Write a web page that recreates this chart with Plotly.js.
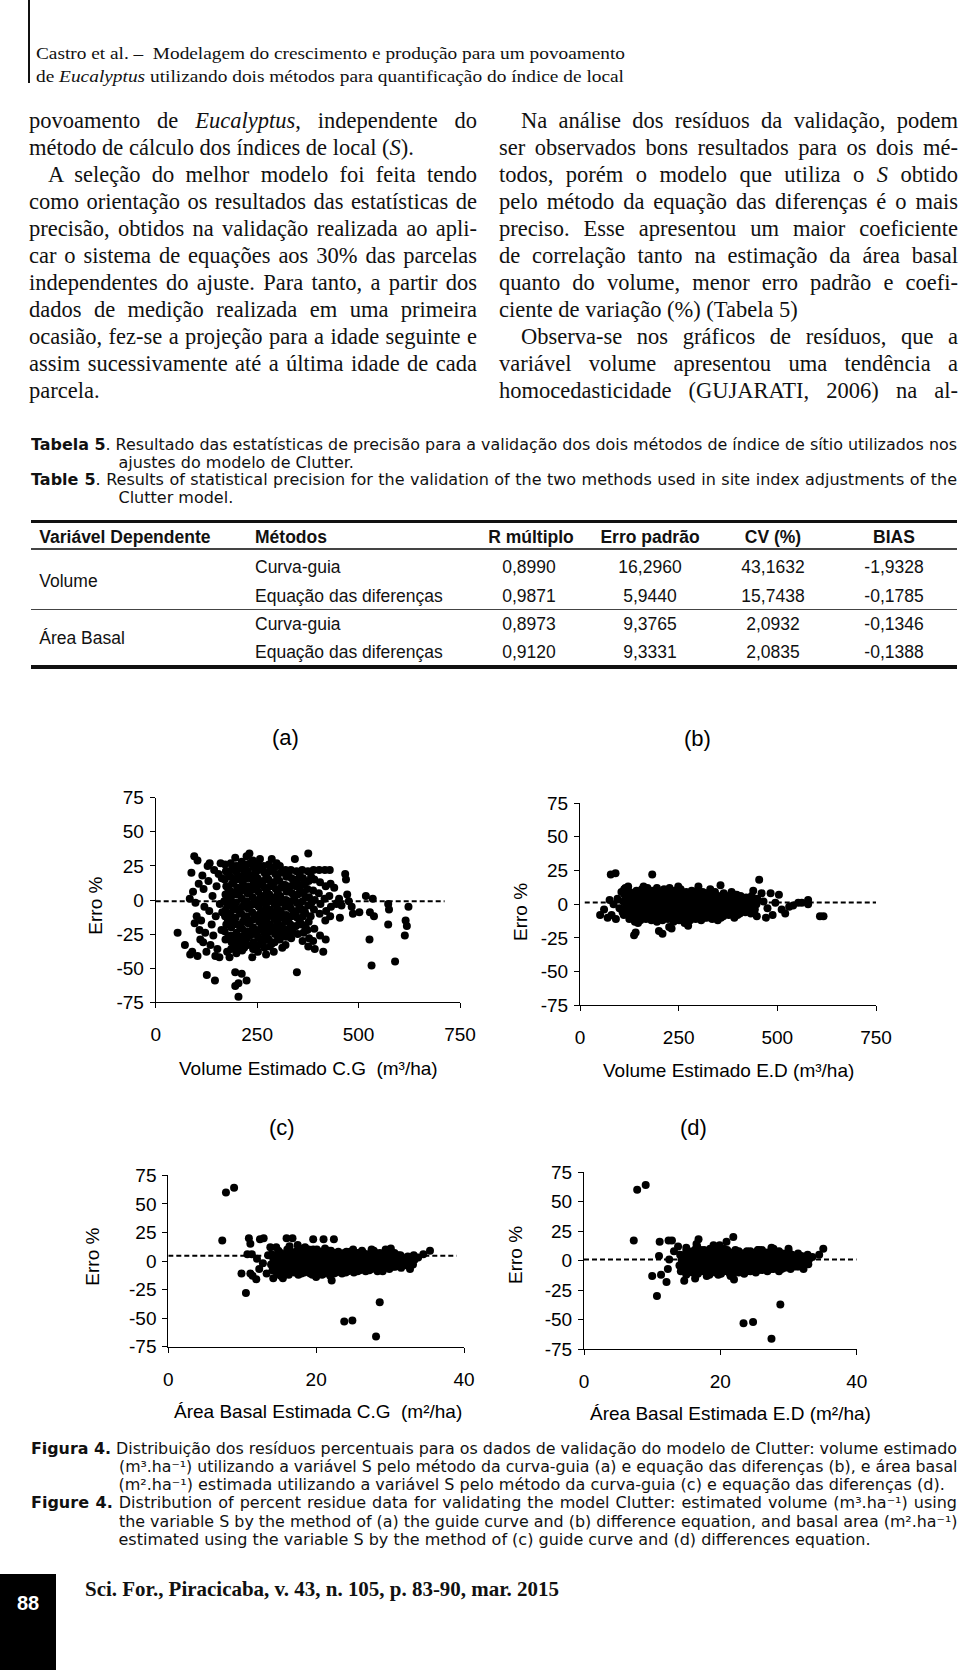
<!DOCTYPE html>
<html><head><meta charset="utf-8">
<script src="https://cdn.plot.ly/plotly-3.0.1.min.js"></script>
<style>
html,body{margin:0;padding:0;background:#fff;}
body{width:960px;height:1670px;position:relative;overflow:hidden;}
.ln{position:absolute;white-space:nowrap;color:#111;}
.ln>span{display:inline-block;transform-origin:0 50%;}
.serif{font-family:'Liberation Serif','Times New Roman',serif;}
.sans{font-family:'DejaVu Sans',Verdana,sans-serif;}
.arial{font-family:'Liberation Sans',Arial,sans-serif;}
.box{position:absolute;background:#111;}
#fig{position:absolute;left:0;top:690px;width:960px;height:740px;}
</style></head>
<body>
<div class="box" style="left:28px;top:0;width:2px;height:83px;"></div>
<div class="box" style="left:31px;top:519.5px;width:926px;height:3.5px;"></div>
<div class="box" style="left:31px;top:548px;width:926px;height:1.5px;background:#444;"></div>
<div class="box" style="left:31px;top:608.5px;width:926px;height:1.5px;background:#444;"></div>
<div class="box" style="left:31px;top:665px;width:926px;height:3.5px;"></div>
<div class="box" style="left:0;top:1574px;width:56px;height:96px;background:#000;"></div>
<div id="fig"></div>
<script>
// ---------- chart data (estimated value, error %) ----------
const volCG = [
[54,-24],[72,-33],[84,1],[85,-40],[88,20],[90,-38],[92,6],[95,32],[96,-17],[98,-2],[101,-12],[103,29],[103,-41],[106,12],[108,-22],[110,-29],[112,-15],[115,18],[117,-31],[118,8],[120,-5],[122,-24],[125,-38],[126,-55],[128,25],[130,14],[132,-8],[133,27],[135,-33],[138,-18],[140,3],[142,-26],[144,22],[146,-59],[147,-41],[148,-12],[150,10],[152,-36],[155,19],[157,-42],[158,-3],[160,27],[162,-22],[164,-9],[163,16],
[171,26],[173,21],[170,15],[174,10],[172,4],[169,-1],[173,-7],[171,-12],[174,-18],[170,-23],[172,-29],[176,-38],
[178,20],[179,8],[177,-4],[178,-15],[179,-27],
[185,27],[187,22],[184,17],[188,12],[186,6],[185,1],[187,-4],[184,-10],[188,-15],[186,-20],[185,-26],[187,-31],[186,-36],[182,-42],
[192,24],[193,14],[191,4],[192,-7],[193,-17],[191,-28],
[198,25],[200,20],[197,15],[201,9],[199,4],[198,-2],[200,-7],[197,-13],[201,-18],[199,-24],[198,-29],[200,-34],[199,-39],[196,31],[196,-53],[196,-63],[204,-71],[204,-61],
[206,25],[207,15],[205,4],[206,-8],[207,-19],[205,-30],
[212,28],[214,23],[211,17],[215,12],[213,7],[212,1],[214,-5],[211,-10],[215,-16],[213,-21],[212,-27],[214,-32],[213,-37],[212,-54],
[219,19],[220,8],[218,-3],[219,-14],[220,-25],[218,-35],
[225,26],[227,21],[224,16],[228,10],[226,5],[225,-1],[227,-6],[224,-12],[228,-17],[226,-23],[225,-28],[227,-33],[224,-59],[224,32],[231,34],
[233,27],[234,16],[232,6],[233,-4],[234,-15],[232,-26],
[239,29],[241,24],[238,18],[242,13],[240,8],[239,2],[241,-3],[238,-9],[242,-14],[240,-20],[239,-25],[241,-31],[240,-36],[238,-42],
[246,20],[247,10],[245,-1],[246,-12],[247,-23],[245,-33],
[252,27],[254,22],[251,16],[255,11],[253,6],[252,0],[254,-5],[251,-11],[255,-16],[253,-22],[252,-27],[254,-33],[252,-38],[257,30],
[260,24],[261,13],[259,3],[260,-8],[261,-19],[259,-29],
[266,25],[268,20],[265,14],[269,9],[267,3],[266,-2],[268,-8],[265,-13],[269,-19],[267,-24],[266,-30],[268,-35],[272,-40],
[273,17],[274,6],[272,-5],[273,-16],[274,-27],
[279,26],[281,21],[278,15],[282,10],[280,4],[279,-1],[281,-7],[278,-12],[282,-18],[280,-23],[279,-29],[281,-34],[286,30],
[287,23],[288,12],[286,1],[287,-10],[288,-21],[286,-32],
[293,24],[295,19],[292,13],[296,8],[294,2],[293,-3],[295,-9],[292,-14],[296,-20],[294,-25],[293,-31],[291,-38],[298,27],
[300,16],[301,5],[299,-6],[300,-17],[301,-27],
[306,25],[308,20],[305,14],[309,9],[307,3],[306,-2],[308,-8],[305,-13],[309,-19],[307,-24],[306,-29],[312,-35],
[314,21],[315,11],[313,0],[314,-11],[315,-21],
[320,22],[322,17],[319,11],[323,6],[321,0],[320,-5],[322,-11],[319,-16],[323,-22],[321,-27],[320,-33],
[327,19],[328,8],[326,-3],[327,-14],[328,-25],
[333,22],[335,16],[332,10],[336,5],[334,-1],[333,-6],[335,-12],[332,-18],[336,-23],[334,-28],[343,30],
[341,13],[342,2],[340,-9],[341,-20],
[347,21],[349,15],[346,10],[350,4],[348,-2],[347,-8],[349,-13],[346,-19],[350,-25],[348,-53],
[355,18],[356,7],[354,-4],[355,-15],
[361,22],[363,16],[360,11],[364,5],[362,-1],[361,-7],[363,-12],[360,-18],[364,-24],[362,-30],
[369,13],[370,2],[368,-9],[369,-20],
[375,21],[377,14],[374,8],[378,2],[376,-4],[377,-16],[374,-22],[378,-28],[376,-34],[376,34],
[383,17],[384,-2],[382,-12],
[389,22],[391,15],[388,7],[392,0],[390,-7],[391,-21],[388,-30],[392,-36],
[403,22],[405,13],[402,5],[406,-3],[404,-10],[405,-26],
[417,22],[419,10],[416,1],[420,-8],[418,-15],[419,-29],[413,-38],
[429,22],[431,12],[428,3],[432,-5],[430,-12],
[440,9],[445,-3],[448,-2],[452,1],[454,-13],[458,-4],[467,19],[469,15],[472,4],[476,-1],[483,-5],[486,-10],[502,-9],[518,3],[527,-29],[528,-9],[532,-48],[535,1],[538,-12],[573,-3],[573,-18],[575,-7],[590,-45],[614,-26],[616,-15],[619,-19],[623,-5]
];
const volED = [
[51,-8],[61,-4],[70,-10],[75,3],[78,22],[80,-8],[85,0],[90,23],[91,-11],[95,4],[100,-3],[105,9],[108,-6],[115,12],
[111,-8],[114,-3],[110,2],[113,7],[112,11],[119,-6],[118,4],[120,-1],
[125,-11],[128,-6],[124,-1],[127,4],[126,9],[122,13],[133,-9],[132,-4],[134,1],[133,6],
[139,-13],[142,-8],[138,-3],[141,2],[140,6],[143,10],[137,-23],[141,-21],[147,-10],[146,-5],[148,0],[147,4],[146,9],
[153,-12],[156,-7],[152,-2],[155,3],[154,8],[157,11],[147,-14],[161,-9],[160,-4],[162,0],[161,5],[160,10],
[167,-11],[170,-6],[166,-1],[169,4],[168,9],[171,12],[161,13],[175,-9],[174,-4],[176,2],[175,7],
[181,-12],[184,-8],[180,-3],[183,1],[182,6],[185,10],[183,22],[189,-10],[188,-6],[190,-1],[189,3],[188,8],
[195,-13],[198,-9],[194,-4],[197,0],[196,5],[199,9],[195,12],[200,-20],[209,-22],[203,-10],[202,-5],[204,2],[203,7],
[209,-12],[212,-7],[208,-2],[211,3],[210,7],[213,11],[217,-9],[216,-4],[218,0],[217,5],[216,9],
[223,-11],[226,-7],[222,-2],[225,2],[224,7],[227,12],[226,-17],[232,-18],[231,-10],[230,-5],[232,-1],[231,4],[230,9],
[237,-13],[240,-8],[236,-4],[239,1],[238,5],[241,10],[245,-10],[244,-6],[246,-1],[245,3],[244,8],
[251,-12],[254,-7],[250,-3],[253,2],[252,6],[255,11],[249,13],[259,-10],[258,-5],[260,0],[259,4],[258,9],
[265,-14],[268,-9],[264,-4],[267,0],[266,5],[269,9],[270,-14],[274,-16],[273,-11],[272,-6],[274,-1],[273,3],[272,7],
[279,-12],[282,-8],[278,-3],[281,2],[280,6],[283,10],[287,-10],[286,-5],[288,0],[287,4],[286,8],
[293,-11],[296,-7],[292,-2],[295,3],[294,7],[297,10],[300,13],[301,-9],[300,-4],[302,0],[301,5],[300,9],
[307,-12],[310,-8],[306,-3],[309,1],[308,5],[311,9],[315,-10],[314,-5],[316,-1],[315,4],[314,7],
[321,-10],[324,-6],[320,-1],[323,3],[322,8],[330,11],[329,-8],[328,-4],[330,1],[329,5],
[335,-11],[338,-6],[334,-2],[337,3],[336,7],[343,-9],[342,-4],[344,0],[343,5],[342,9],
[349,-12],[352,-7],[348,-3],[351,2],[350,6],[356,14],[357,-10],[356,-5],[358,0],[357,4],
[363,-9],[366,-5],[362,0],[365,4],[364,8],[371,-7],[370,-2],[372,2],[371,6],
[377,-8],[380,-4],[376,1],[379,5],[384,9],[385,-6],[384,-2],[386,3],
[391,-10],[394,-5],[390,-1],[393,3],[392,7],[397,7],[399,-8],[398,-3],[400,1],[399,5],
[405,-7],[408,-3],[404,2],[407,6],[413,-5],[412,0],[414,4],
[419,-6],[422,-2],[418,2],[421,5],[427,-4],[426,0],[428,3],
[433,-7],[436,-3],[432,1],[435,6],[439,10],[441,-6],[440,-1],[442,3],
[443,-4],[448,-9],[447,0],[449,4],[454,18],[460,8],
[465,2],[471,-10],[475,-3],[483,8],[488,-8],[495,1],[504,7],[511,-4],[520,-7],[530,-2],[540,-1],[553,1],[562,1],[578,3],[578,0],[608,-9],[617,-9]
];
const baCG = [
[7.8,60],[8.9,64],[7.3,18],[9.9,-11],[10.5,-28],[10.7,6],[10.9,20],[11.1,15],[11.1,-11],[11.3,6],[11.4,-13],[11.9,-16],[12.0,2],[12.3,-7],[12.4,19],[12.8,-2],[12.9,20],[13.3,-11],[13.5,5],[13.8,12],[14.2,-15],[14.6,12],[15.2,-13],[15.5,-15],[16.0,20],[16.8,20],[17.5,14],[18.5,12],[19.6,19],[20.0,-14],[21.0,19],[22.1,-17],[22.4,19],[23.8,-53],[24.9,-52],[25.0,10],[27.5,10],[28.1,-66],[28.6,-36],[29.0,-9],[30.1,11],[31.5,4],[32.5,-1],[32.7,-7],[33.8,3],[34.5,6],[35.4,9],
[14.1,-8],[13.9,-3],[14.2,2],[14.0,6],[14.5,-5],[14.4,0],[14.5,4],
[14.7,-11],[14.9,-6],[14.8,-1],[14.6,4],[14.9,9],[15.2,-8],[15.3,-3],[15.1,2],[15.2,7],
[15.5,-9],[15.7,-4],[15.6,1],[15.8,5],[16.0,-10],[16.1,-5],[15.9,0],[16.0,5],[16.1,10],
[16.3,-12],[16.5,-7],[16.4,-2],[16.2,3],[16.6,8],[16.4,13],[16.8,-9],[16.9,-4],[16.7,1],[16.8,6],
[17.1,-10],[17.3,-5],[17.2,0],[17.0,4],[17.4,9],[17.6,-12],[17.7,-8],[17.5,-3],[17.6,2],[17.7,6],
[18.0,-11],[17.9,-6],[18.1,-2],[18.0,3],[18.2,7],[17.8,11],[18.4,-10],[18.5,-5],[18.3,0],[18.4,4],[18.5,9],
[18.7,-9],[18.9,-4],[18.8,1],[18.6,5],[19.0,10],[19.2,-11],[19.3,-6],[19.1,-1],[19.2,3],[19.3,8],
[19.5,-12],[19.7,-7],[19.6,-3],[19.4,2],[19.8,6],[19.6,10],[20.0,-9],[20.1,-4],[19.9,1],[20.0,5],[20.1,10],
[20.3,-10],[20.5,-5],[20.4,0],[20.2,4],[20.6,8],[20.8,-12],[20.9,-8],[20.7,-3],[20.8,2],[20.9,6],
[21.1,-11],[21.3,-6],[21.2,-1],[21.0,3],[21.4,7],[21.2,11],[21.6,-9],[21.7,-4],[21.5,0],[21.6,5],[21.7,9],
[21.9,-13],[22.1,-8],[22.0,-4],[21.8,1],[22.2,5],[22.0,9],[22.4,-11],[22.5,-6],[22.3,-2],[22.4,3],[22.5,7],
[22.7,-10],[22.9,-5],[22.8,0],[22.6,4],[23.0,8],[23.2,-8],[23.3,-3],[23.1,1],[23.2,6],
[23.5,-11],[23.7,-7],[23.6,-2],[23.4,3],[23.8,7],[24.0,-10],[24.1,-5],[23.9,-1],[24.0,3],[24.1,8],
[24.3,-9],[24.5,-5],[24.4,0],[24.2,4],[24.6,8],[24.8,-7],[24.9,-3],[24.7,2],[24.8,6],
[25.1,-10],[25.3,-6],[25.2,-1],[25.0,3],[25.4,7],[25.6,-9],[25.7,-5],[25.5,-1],[25.6,3],[25.7,7],
[25.9,-8],[26.1,-4],[26.0,1],[25.8,5],[26.2,9],[26.4,-7],[26.5,-2],[26.3,2],[26.4,7],
[26.7,-9],[26.9,-5],[26.8,-1],[26.6,3],[27.0,6],[27.2,-8],[27.3,-4],[27.1,0],[27.2,4],
[27.5,-7],[27.7,-3],[27.6,1],[27.4,5],[27.8,9],[28.0,-6],[28.1,-1],[27.9,3],[28.0,7],
[28.3,-9],[28.5,-5],[28.4,0],[28.2,4],[28.6,7],[28.8,-7],[28.9,-3],[28.7,2],[28.8,5],
[29.1,-6],[29.3,-2],[29.2,2],[29.0,6],[29.4,10],[29.6,-4],[29.7,0],[29.5,4],[29.6,8],
[29.9,-7],[30.1,-3],[30.0,1],[29.8,5],[30.4,-5],[30.5,-1],[30.3,3],
[30.7,-5],[30.9,-1],[30.8,3],[30.6,7],[31.2,-3],[31.3,1],[31.1,5],
[31.5,-6],[31.7,-2],[31.6,2],[31.4,5],[32.0,-2],[32.1,2],
[32.3,-4],[32.5,0],[32.4,4],[32.8,-1],[32.9,3],
[33.1,-3],[33.3,1],[33.2,5]
];
const baED = [
[7.8,60],[9.05,64],[7.3,17],[10.0,-13],[10.7,-30],[11.0,4],[11.1,16],[11.3,-12],[12.1,-18],[12.3,-7],[12.4,17],[12.5,1],[12.9,17],[13.2,8],[13.8,12],[14.7,-17],[15.0,11],[16.3,-15],[16.5,14],[16.8,18],[18.0,-13],[19.0,13],[20.9,16],[21.5,-13],[21.9,20],[22.0,-16],[23.4,-53],[24.8,-52],[25.5,9],[27.5,11],[27.5,-66],[28.8,-37],[30.0,10],[31.5,-5],[32.2,-7],[33.5,3],[34.5,5],[35.1,10],
[14.2,-9],[14.0,-4],[14.3,1],[14.1,5],[14.6,-6],[14.7,-1],[14.5,3],
[15.0,-12],[15.1,-7],[14.9,-2],[15.2,3],[15.0,8],[15.4,-9],[15.5,-4],[15.4,1],[15.5,6],
[15.9,-10],[16.0,-5],[15.8,0],[16.1,4],[15.9,8],[16.3,-8],[16.4,-3],[16.2,2],[16.3,6],[16.4,10],
[16.7,-11],[16.8,-7],[16.6,-2],[16.9,3],[16.7,7],[16.6,12],[17.1,-9],[17.2,-5],[17.1,0],[17.2,5],[17.1,9],
[17.6,-9],[17.7,-4],[17.5,0],[17.8,5],[17.6,9],[18.0,-10],[18.1,-6],[17.9,-1],[18.0,3],[18.1,8],
[18.4,-12],[18.5,-7],[18.3,-3],[18.6,2],[18.4,6],[18.5,10],[18.9,-9],[18.8,-5],[18.9,0],[18.8,4],[18.9,8],
[19.3,-10],[19.4,-5],[19.2,-1],[19.5,3],[19.3,8],[19.7,-12],[19.8,-8],[19.7,-3],[19.6,1],[19.7,6],[19.8,10],
[20.1,-11],[20.2,-6],[20.0,-2],[20.3,3],[20.1,7],[19.9,13],[20.5,-9],[20.6,-4],[20.5,1],[20.6,5],[20.5,10],
[21.0,-9],[21.1,-5],[20.9,0],[21.2,4],[21.0,9],[21.4,-11],[21.5,-7],[21.4,-2],[21.3,2],[21.4,7],
[21.8,-12],[21.9,-7],[21.7,-3],[22.0,2],[21.8,6],[22.2,-9],[22.3,-5],[22.2,0],[22.3,4],[22.2,9],
[22.7,-10],[22.8,-5],[22.6,-1],[22.9,3],[22.7,8],[23.1,-8],[23.2,-3],[23.0,1],[23.1,6],
[23.5,-11],[23.6,-6],[23.4,-2],[23.7,2],[23.5,6],[23.9,-9],[24.0,-4],[23.9,0],[24.0,4],[23.9,8],
[24.4,-9],[24.5,-4],[24.3,0],[24.6,4],[24.4,8],[24.8,-7],[24.9,-2],[24.8,2],[24.7,6],
[25.2,-10],[25.3,-5],[25.1,-1],[25.4,3],[25.2,7],[25.6,-8],[25.7,-3],[25.6,1],[25.7,5],[25.6,9],
[26.1,-8],[26.2,-4],[26.0,1],[26.3,5],[26.1,9],[26.5,-6],[26.6,-2],[26.5,3],[26.4,7],
[26.9,-9],[27.0,-5],[26.8,-1],[27.1,3],[26.9,7],[27.4,-7],[27.3,-3],[27.4,1],[27.3,5],
[27.8,-7],[27.9,-3],[27.7,1],[28.0,5],[27.8,10],[28.2,-5],[28.3,-1],[28.2,3],[28.3,7],
[28.6,-9],[28.7,-5],[28.5,0],[28.8,4],[28.6,8],[29.0,-7],[29.1,-3],[29.0,2],[29.1,6],
[29.5,-6],[29.6,-2],[29.4,2],[29.7,6],[29.9,-4],[30.0,0],[29.9,4],[30.0,8],
[30.3,-7],[30.4,-3],[30.2,1],[30.5,5],[30.8,-5],[30.7,-1],[30.8,3],
[31.2,-5],[31.3,-1],[31.1,3],[31.4,6],[31.6,-3],[31.7,1],[31.6,4],
[32.0,-4],[32.1,0],[31.9,4],[32.4,-2],[32.5,2],
[32.9,-3],[33.0,1],[32.8,5]
];
// dashed reference lines (x, error %)
const lineA = [[0,-1],[712,-1]];
const lineB = [[12,1.3],[750,1.3]];
const lineC = [[0,4.5],[39,4.5]];
const lineD = [[0,1],[40,1]];
// ticks and labels
const volTicks = [0,250,500,750];
const baTicks = [0,20,40];
const erroTicks = [-75,-50,-25,0,25,50,75];
const panelLabels = ['(a)','(b)','(c)','(d)'];
const xTitles = ['Volume Estimado C.G  (m³/ha)','Volume Estimado E.D (m³/ha)','Área Basal Estimada C.G  (m²/ha)','Área Basal Estimada E.D (m²/ha)'];
const yTitle = 'Erro %';

// table data
const tblHead = ['Variável Dependente','Métodos','R múltiplo','Erro padrão','CV (%)','BIAS'];
const tblVar = ['Volume','Área Basal'];
const tblMet = ['Curva-guia','Equação das diferenças','Curva-guia','Equação das diferenças'];
const tblR = ['0,8990','0,9871','0,8973','0,9120'];
const tblErro = ['16,2960','5,9440','9,3765','9,3331'];
const tblCV = ['43,1632','15,7438','2,0932','2,0835'];
const tblBias = ['-1,9328','-0,1785','-0,1346','-0,1388'];

// ---------- page text ----------
function addLine(html, x, yc, w, mode, cls, size, lh, center){
  const d = document.createElement('div');
  d.className = 'ln ' + cls;
  d.style.left = x + 'px';
  d.style.top = (yc - lh/2) + 'px';
  d.style.fontSize = size + 'px';
  d.style.lineHeight = lh + 'px';
  d.style.height = lh + 'px';
  if (center) d.style.transform = 'translateX(-50%)';
  const s = document.createElement('span');
  s.innerHTML = html;
  d.appendChild(s);
  d.dataset.w = w || 0;
  d.dataset.mode = mode || 'n';
  document.body.appendChild(d);
  return d;
}
function fitAll(){
  document.querySelectorAll('.ln').forEach(d => {
    const s = d.firstChild;
    s.style.transform = ''; s.style.wordSpacing = '';
    const T = +d.dataset.w, m = d.dataset.mode;
    if (!T) return;
    const w = s.getBoundingClientRect().width;
    if (m === 'f' || w > T) { s.style.transform = 'scaleX(' + (T / w) + ')'; }
    else if (m === 'j') {
      const n = (s.textContent.match(/[ \u00a0]/g) || []).length;
      if (n) s.style.wordSpacing = ((T - w) / n) + 'px';
    }
  });
}

// header
addLine('Castro et al. –&nbsp; Modelagem do crescimento e produção para um povoamento', 36, 54, 589, 'f', 'serif', 17, 22);
addLine('de <i>Eucalyptus</i> utilizando dois métodos para quantificação do índice de local', 36, 76.5, 588, 'f', 'serif', 17, 22);

// body columns
const leftCol = [
 ['povoamento de <i>Eucalyptus</i>, independente do','j',0],
 ['método de cálculo dos índices de local (<i>S</i>).','n',0],
 ['A seleção do melhor modelo foi feita tendo','j',19],
 ['como orientação os resultados das estatísticas de','j',0],
 ['precisão, obtidos na validação realizada ao apli-','j',0],
 ['car o sistema de equações aos 30% das parcelas','j',0],
 ['independentes do ajuste. Para tanto, a partir dos','j',0],
 ['dados de medição realizada em uma primeira','j',0],
 ['ocasião, fez-se a projeção para a idade seguinte e','j',0],
 ['assim sucessivamente até a última idade de cada','j',0],
 ['parcela.','n',0]
];
const rightCol = [
 ['Na análise dos resíduos da validação, podem','j',22],
 ['ser observados bons resultados para os dois mé-','j',0],
 ['todos, porém o modelo que utiliza o <i>S</i> obtido','j',0],
 ['pelo método da equação das diferenças é o mais','j',0],
 ['preciso. Esse apresentou um maior coeficiente','j',0],
 ['de correlação tanto na estimação da área basal','j',0],
 ['quanto do volume, menor erro padrão e coefi-','j',0],
 ['ciente de variação (%) (Tabela 5)','n',0],
 ['Observa-se nos gráficos de resíduos, que a','j',22],
 ['variável volume apresentou uma tendência a','j',0],
 ['homocedasticidade (GUJARATI, 2006) na al-','j',0]
];
leftCol.forEach((l,i) => addLine(l[0], 29 + l[2], 120.5 + i*26.95, 448 - l[2], l[1], 'serif', 22.5, 27));
rightCol.forEach((l,i) => addLine(l[0], 499 + l[2], 120.5 + i*26.95, 459 - l[2], l[1], 'serif', 22.5, 27));

// table caption
addLine('<b>Tabela 5</b>. Resultado das estatísticas de precisão para a validação dos dois métodos de índice de sítio utilizados nos', 31, 445, 926, 'j', 'sans', 16, 18);
addLine('ajustes do modelo de Clutter.', 118.5, 462.5, 838, 'n', 'sans', 16, 18);
addLine('<b>Table 5</b>. Results of statistical precision for the validation of the two methods used in site index adjustments of the', 31, 480, 926, 'j', 'sans', 16, 18);
addLine('Clutter model.', 118.5, 497.5, 838, 'n', 'sans', 16, 18);

// table
const hdrY = 536.7, rowY = [566.7, 595.7, 624.3, 652.3], varY = [580.7, 638.3];
const colC = [529, 650, 773, 894];
addLine('<b>' + tblHead[0] + '</b>', 39.3, hdrY, 0, 'n', 'arial', 17.5, 22);
addLine('<b>' + tblHead[1] + '</b>', 255, hdrY, 0, 'n', 'arial', 17.5, 22);
[2,3,4,5].forEach((k,j) => addLine('<b>' + tblHead[k] + '</b>', colC[j] + (j===0?2:0), hdrY, 0, 'n', 'arial', 17.5, 22, true));
tblVar.forEach((v,i) => addLine(v, 39.3, varY[i], 0, 'n', 'arial', 17.5, 22));
tblMet.forEach((v,i) => addLine(v, 255, rowY[i], 0, 'n', 'arial', 17.5, 22));
[tblR, tblErro, tblCV, tblBias].forEach((col,j) => col.forEach((v,i) => addLine(v, colC[j], rowY[i], 0, 'n', 'arial', 17.5, 22, true)));

// figure caption
addLine('<b>Figura 4.</b> Distribuição dos resíduos percentuais para os dados de validação do modelo de Clutter: volume estimado', 31, 1448.5, 926, 'j', 'sans', 16, 18);
addLine('(m³.ha⁻¹) utilizando a variável S pelo método da curva-guia (a) e equação das diferenças (b), e área basal', 118.5, 1466.8, 838.5, 'j', 'sans', 16, 18);
addLine('(m².ha⁻¹) estimada utilizando a variável S pelo método da curva-guia (c) e equação das diferenças (d).', 118.5, 1485, 838.5, 'n', 'sans', 16, 18);
addLine('<b>Figure 4.</b> Distribution of percent residue data for validating the model Clutter: estimated volume (m³.ha⁻¹) using', 31, 1503.3, 926, 'j', 'sans', 16, 18);
addLine('the variable S by the method of (a) the guide curve and (b) difference equation, and basal area (m².ha⁻¹)', 118.5, 1521.7, 838.5, 'j', 'sans', 16, 18);
addLine('estimated using the variable S by the method of (c) guide curve and (d) differences equation.', 118.5, 1540, 838.5, 'n', 'sans', 16, 18);

// footer
const pg = addLine('<b>88</b>', 28, 1603, 0, 'n', 'arial', 20, 24, true);
pg.style.color = '#fff';
addLine('<b>Sci. For., Piracicaba, v. 43, n. 105, p. 83-90, mar. 2015</b>', 85, 1589, 474, 'f', 'serif', 21, 26);

fitAll();
if (document.fonts && document.fonts.ready) document.fonts.ready.then(fitAll);

// ---------- Plotly figure ----------
const FONT = 'Liberation Sans, Arial, sans-serif';
function pts(p, xa, ya){
  return {type:'scatter', mode:'markers', x:p.map(d=>d[0]), y:p.map(d=>d[1]), xaxis:xa, yaxis:ya,
    marker:{color:'#000', size:8, line:{width:0}}, hoverinfo:'skip', showlegend:false, cliponaxis:false};
}
function dash(p, xa, ya){
  return {type:'scatter', mode:'lines', x:p.map(d=>d[0]), y:p.map(d=>d[1]), xaxis:xa, yaxis:ya,
    line:{color:'#000', width:2, dash:'5px,3px'}, hoverinfo:'skip', showlegend:false};
}
function axis(domain, range, ticks, anchor, standoff){
  return {domain:domain, range:range, tickmode:'array', tickvals:ticks, ticktext:ticks.map(v => String(v)),
    anchor:anchor, showline:true, linecolor:'#000', linewidth:1, ticks:'outside', ticklen:5, tickwidth:1,
    tickcolor:'#000', showgrid:false, zeroline:false, ticklabelstandoff:standoff,
    tickfont:{family:FONT, size:19, color:'#000'}, fixedrange:true};
}
const data = [
  pts(volCG,'x','y'), dash(lineA,'x','y'),
  pts(volED,'x2','y2'), dash(lineB,'x2','y2'),
  pts(baCG,'x3','y3'), dash(lineC,'x3','y3'),
  pts(baED,'x4','y4'), dash(lineD,'x4','y4')
];
const px = v => v/960, py = v => 1 - (v-690)/740;
const labelPos = [[285,737],[697,738],[282,1128],[693,1128]];
const xTitlePos = [[308.3,1068],[728,1070],[318,1411.7],[730,1413]];
const yTitlePos = [[96,905.7],[520,912],[93,1256.7],[515,1255]];
const ann = [];
panelLabels.forEach((t,i) => ann.push({text:t, x:px(labelPos[i][0]), y:py(labelPos[i][1]), xref:'paper', yref:'paper', showarrow:false, xanchor:'center', yanchor:'middle', font:{family:FONT, size:22, color:'#000'}}));
xTitles.forEach((t,i) => ann.push({text:t, x:px(xTitlePos[i][0]), y:py(xTitlePos[i][1]), xref:'paper', yref:'paper', showarrow:false, xanchor:'center', yanchor:'middle', font:{family:FONT, size:19, color:'#000'}}));
yTitlePos.forEach(p => ann.push({text:yTitle, x:px(p[0]), y:py(p[1]), xref:'paper', yref:'paper', showarrow:false, xanchor:'center', yanchor:'middle', textangle:-90, font:{family:FONT, size:19, color:'#000'}}));

const layout = {
  width:960, height:740, margin:{l:0,r:0,t:0,b:0},
  paper_bgcolor:'rgba(0,0,0,0)', plot_bgcolor:'rgba(0,0,0,0)', showlegend:false,
  font:{family:FONT, color:'#000'},
  xaxis: axis([155.7/960, 460/960], [0,750], volTicks, 'y', 10),
  yaxis: axis([1-312.3/740, 1-107.7/740], [-75,75], erroTicks, 'x', 2),
  xaxis2: axis([580/960, 876/960], [0,750], volTicks, 'y2', 10),
  yaxis2: axis([1-315.3/740, 1-113/740], [-75,75], erroTicks, 'x2', 2),
  xaxis3: axis([168.3/960, 464/960], [0,40], baTicks, 'y3', 10),
  yaxis3: axis([1-656.7/740, 1-485.3/740], [-75,75], erroTicks, 'x3', 2),
  xaxis4: axis([584/960, 856.7/960], [0,40], baTicks, 'y4', 10),
  yaxis4: axis([1-659.3/740, 1-482/740], [-75,75], erroTicks, 'x4', 2),
  annotations: ann
};
Plotly.newPlot('fig', data, layout, {staticPlot:true, displayModeBar:false});
</script>
</body></html>
